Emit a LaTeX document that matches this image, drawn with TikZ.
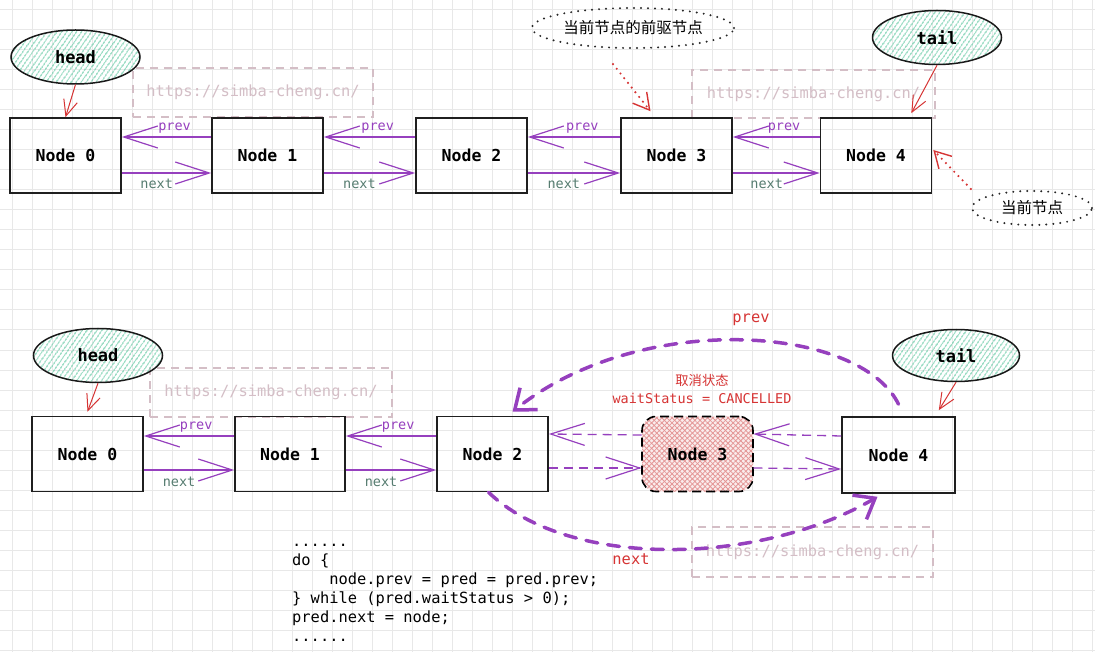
\documentclass[tikz,border=0pt]{standalone}
\usepackage{fontspec}
\setmainfont{DejaVu Sans}
\setmonofont{DejaVu Sans Mono}
\newfontfamily\cjk{Noto Sans CJK SC}
\usetikzlibrary{arrows.meta,shapes.geometric,patterns.meta}
\definecolor{gridc}{RGB}{232,232,232}
\definecolor{purp}{RGB}{150,64,190}
\definecolor{nextc}{RGB}{86,124,112}
\definecolor{redc}{RGB}{214,52,52}
\definecolor{mint}{RGB}{110,205,170}
\definecolor{wmc}{RGB}{212,190,198}
\definecolor{hatchred}{RGB}{228,150,150}
\tikzset{
  nodebox/.style={draw=black!88, line width=1.6pt, minimum width=111pt, minimum height=75pt, inner sep=0pt, font=\ttfamily\bfseries\fontsize{16.5}{20}\selectfont},
  ptr/.style={ellipse, draw=black!90, line width=1.5pt, pattern={Lines[angle=55,distance=4pt,line width=1.1pt]}, pattern color=mint, minimum width=129pt, minimum height=54pt, inner sep=0pt, font=\ttfamily\bfseries\fontsize{17}{20}\selectfont},
  link/.style={draw=purp, line width=1.3pt, -{Straight Barb[length=34pt,width=22pt,line width=1.2pt]}},
  dlink/.style={link, dash pattern=on 9pt off 6pt},
  bigcurve/.style={draw=purp, line width=3.5pt, dash pattern=on 12pt off 10pt, line cap=round, -{Straight Barb[length=18pt,width=28pt,line width=3.5pt]}},
  redptr/.style={draw=redc, line width=1pt, -{Straight Barb[length=16pt,width=14pt,line width=1pt]}},
  reddot/.style={draw=redc, line width=2.4pt, line cap=round, dash pattern=on 0pt off 6pt, -{Straight Barb[length=16pt,width=18pt,line width=1.4pt]}},
  dotell/.style={ellipse, draw=black!85, line width=2.2pt, line cap=round, dash pattern=on 0pt off 7pt, inner sep=0pt, font=\cjk\fontsize{15.5}{18}\selectfont},
  wm/.style={draw=wmc, line width=1.4pt, dash pattern=on 8pt off 6pt, text=wmc, font=\ttfamily\fontsize{15.4}{18}\selectfont, inner sep=0pt},
  plbl/.style={text=purp, font=\ttfamily\fontsize{13.5}{16}\selectfont, inner sep=0pt},
  nlbl/.style={text=nextc, font=\ttfamily\fontsize{13.5}{16}\selectfont, inner sep=0pt},
  rlbl/.style={text=redc, font=\ttfamily\fontsize{15.4}{18}\selectfont, inner sep=0pt},
  code/.style={anchor=base west, inner sep=0pt, font=\ttfamily\fontsize{15.4}{19}\selectfont},
}
\begin{document}
\begin{tikzpicture}[x=1pt,y=-1pt]
\useasboundingbox (0,0) rectangle (1095,652);
\fill[white] (0,0) rectangle (1095,652);
\foreach \gx in {12,32,...,1092} \draw[gridc, line width=1pt] (\gx,0) -- (\gx,652);
\foreach \gy in {10,30,...,650} \draw[gridc, line width=1pt] (0,\gy) -- (1095,\gy);

% watermarks
\node[wm, minimum width=240pt, minimum height=49pt] (wm1) at (253,92.5) {https://simba-cheng.cn/};
\node[wm, minimum width=243pt, minimum height=48pt] (wm2) at (813.5,94) {https://simba-cheng.cn/};
\node[wm, minimum width=242pt, minimum height=49pt] (wm3) at (271,392.5) {https://simba-cheng.cn/};
\node[wm, minimum width=241pt, minimum height=50pt] (wm4) at (812.5,552) {https://simba-cheng.cn/};

% top row
\node[nodebox] (n0) at (65.5,155.5) {Node 0};
\node[nodebox] (n1) at (267.5,155.5) {Node 1};
\node[nodebox] (n2) at (471.5,155.5) {Node 2};
\node[nodebox] (n3) at (676.5,155.5) {Node 3};
\node[nodebox] (n4) at (876,155.5) {Node 4};

\node[ptr] (head) at (75.5,57) {head};
\node[ptr] (tail) at (937,37.5) {tail};
\node[dotell, minimum width=202pt, minimum height=40pt] (pred) at (633,28) {当前节点的前驱节点};
\node[dotell, minimum width=120pt, minimum height=34pt] (cur) at (1032,208) {当前节点};

\foreach \a/\b in {n0/n1,n1/n2,n2/n3,n3/n4}{
  \draw[link] ([yshift=18.5pt]\b.west) -- node[plbl, pos=0.41, yshift=9pt]{prev} ([yshift=18.5pt]\a.east);
  \draw[link] ([yshift=-17.5pt]\a.east) -- node[nlbl, pos=0.39, yshift=-11pt]{next} ([yshift=-17.5pt]\b.west);
}

\draw[redptr] (head.south) -- (n0.north);
\draw[redptr] (tail.south) -- ([xshift=-21pt,yshift=4pt]n4.north east);
\draw[reddot] ([shift={(-20pt,-15pt)}]pred.south) -- ([xshift=-26pt,yshift=6pt]n3.north);
\draw[reddot] ([yshift=19pt]cur.west) -- ([xshift=1pt,yshift=5.5pt]n4.east);

% bottom row
\node[nodebox] (m0) at (87.5,454) {Node 0};
\node[nodebox, minimum width=110pt] (m1) at (290,454) {Node 1};
\node[nodebox] (m2) at (492.5,454) {Node 2};
\node[nodebox, draw=black, dash pattern=on 9pt off 5pt, rounded corners=14pt,
  preaction={fill=hatchred!18},
  preaction={pattern={Lines[angle=45,distance=3.6pt,line width=0.8pt]}, pattern color=hatchred},
  pattern={Lines[angle=-45,distance=3.6pt,line width=0.8pt]}, pattern color=hatchred] (m3) at (697.5,454) {Node 3};
\node[nodebox, minimum width=113pt, minimum height=76pt] (m4) at (898.5,455) {Node 4};

\node[ptr] (head2) at (98,355.5) {head};
\node[ptr, minimum width=127pt, minimum height=52pt] (tail2) at (956,355.5) {tail};

\foreach \a/\b in {m0/m1,m1/m2}{
  \draw[link] ([yshift=18pt]\b.west) -- node[plbl, pos=0.42, yshift=9pt]{prev} ([yshift=18pt]\a.east);
  \draw[link] ([yshift=-16pt]\a.east) -- node[nlbl, pos=0.39, yshift=-12pt]{next} ([yshift=-16pt]\b.west);
}
\draw[dlink] ([yshift=19pt]m3.west) -- ([yshift=20pt]m2.east);
\draw[dlink] ([yshift=-14pt]m2.east) -- ([yshift=-14pt]m3.west);
\draw[dlink] ([yshift=19pt]m4.west) -- ([yshift=20pt]m3.east);
\draw[dlink] ([yshift=-14pt]m3.east) -- ([yshift=-14pt]m4.west);

\draw[redptr] (head2.south) -- ([yshift=4pt]m0.north);
\draw[redptr] (tail2.south) -- ([xshift=-17pt,yshift=6pt]m4.north east);

\draw[bigcurve] ([yshift=12pt]m4.north) .. controls (860,325) and (640,310) .. ([xshift=20pt,yshift=4pt]m2.north);
\draw[bigcurve] ([xshift=-4pt]m2.south) .. controls (570,570) and (760,565) .. ([xshift=-21pt,yshift=-3pt]m4.south);
\node[rlbl] (lprev) at (751,320) {prev};
\node[rlbl] (lnext) at (631,559) {next};

\node[text=redc, font=\cjk\fontsize{13.3}{16}\selectfont, inner sep=0pt] (cancel1) at (702,380) {取消状态};
\node[text=redc, font=\ttfamily\fontsize{13.5}{16}\selectfont, inner sep=0pt] (cancel2) at (702,398) {waitStatus = CANCELLED};

% code
\node[code] (c1) at (292,546) {......};
\node[code] (c2) at (292,565) {do \{};
\node[code] (c3) at (292,584) {\phantom{xxxx}node.prev = pred = pred.prev;};
\node[code] (c4) at (292,603) {\} while (pred.waitStatus > 0);};
\node[code] (c5) at (292,622) {pred.next = node;};
\node[code] (c6) at (292,641) {......};
\end{tikzpicture}
\end{document}
